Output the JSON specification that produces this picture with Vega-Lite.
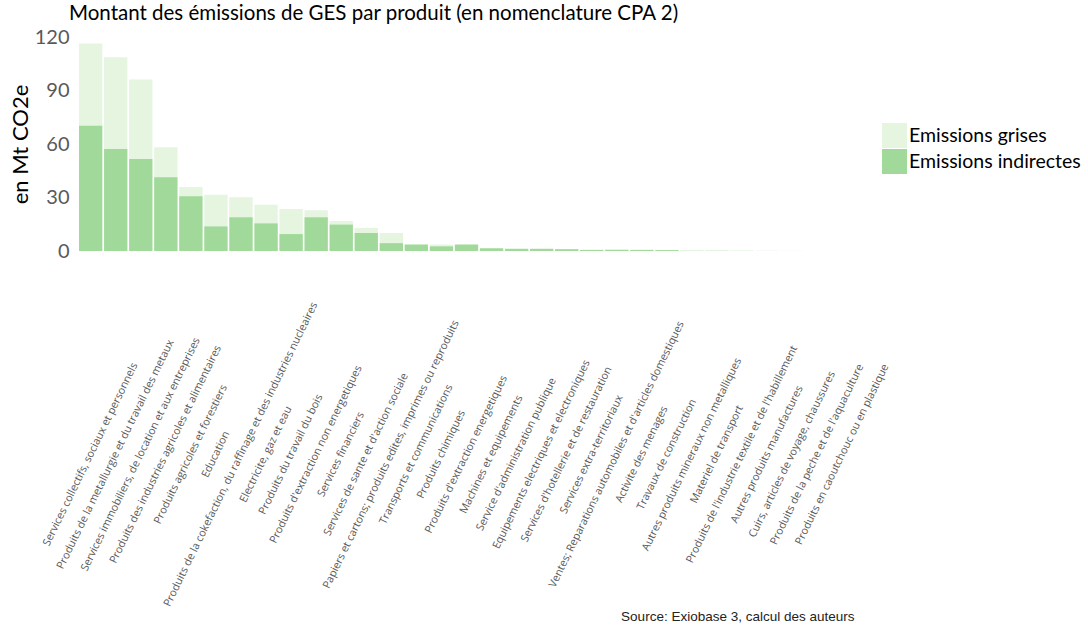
{
  "$schema": "https://vega.github.io/schema/vega-lite/v6.json",
  "width": 775,
  "height": 214,
  "padding": {"left": 9, "top": 3, "right": 5, "bottom": 2},
  "background": "white",
  "title": {
    "text": "Montant des émissions de GES par produit (en nomenclature CPA 2)",
    "anchor": "start",
    "frame": "group",
    "dx": -10,
    "font": "Lato",
    "fontSize": 20.5,
    "fontWeight": "normal",
    "color": "#000000",
    "offset": 3
  },
  "data": {
    "values": [
      {"produit": "Services collectifs, sociaux et personnels", "type": "Emissions grises", "valeur": 116.3},
      {"produit": "Produits de la metallurgie et du travail des metaux", "type": "Emissions grises", "valeur": 108.6},
      {"produit": "Services immobiliers, de location et aux entreprises", "type": "Emissions grises", "valeur": 96.1},
      {"produit": "Produits des industries agricoles et alimentaires", "type": "Emissions grises", "valeur": 58.2},
      {"produit": "Produits agricoles et forestiers", "type": "Emissions grises", "valeur": 35.9},
      {"produit": "Education", "type": "Emissions grises", "valeur": 31.6},
      {"produit": "Produits de la cokefaction, du raffinage et des industries nucleaires", "type": "Emissions grises", "valeur": 30.1},
      {"produit": "Electricite, gaz et eau", "type": "Emissions grises", "valeur": 26.0},
      {"produit": "Produits du travail du bois", "type": "Emissions grises", "valeur": 23.6},
      {"produit": "Produits d'extraction non energetiques", "type": "Emissions grises", "valeur": 22.8},
      {"produit": "Services financiers", "type": "Emissions grises", "valeur": 16.8},
      {"produit": "Services de sante et d'action sociale", "type": "Emissions grises", "valeur": 12.9},
      {"produit": "Papiers et cartons; produits edites, imprimes ou reproduits", "type": "Emissions grises", "valeur": 10.1},
      {"produit": "Transports et communications", "type": "Emissions grises", "valeur": 3.7},
      {"produit": "Produits chimiques", "type": "Emissions grises", "valeur": 3.6},
      {"produit": "Produits d'extraction energetiques", "type": "Emissions grises", "valeur": 3.7},
      {"produit": "Machines et equipements", "type": "Emissions grises", "valeur": 1.6},
      {"produit": "Service d'administration publique", "type": "Emissions grises", "valeur": 1.3},
      {"produit": "Equipements electriques et electroniques", "type": "Emissions grises", "valeur": 1.3},
      {"produit": "Services d'hotellerie et de restauration", "type": "Emissions grises", "valeur": 1.1},
      {"produit": "Services extra-territoriaux", "type": "Emissions grises", "valeur": 0.7},
      {"produit": "Ventes; Reparations automobiles et d'articles domestiques", "type": "Emissions grises", "valeur": 1.0},
      {"produit": "Activite des menages", "type": "Emissions grises", "valeur": 0.7},
      {"produit": "Travaux de construction", "type": "Emissions grises", "valeur": 0.6},
      {"produit": "Autres produits mineraux non metalliques", "type": "Emissions grises", "valeur": 0.3},
      {"produit": "Materiel de transport", "type": "Emissions grises", "valeur": 0.3},
      {"produit": "Produits de l'industrie textile et de l'habillement", "type": "Emissions grises", "valeur": 0.2},
      {"produit": "Autres produits manufactures", "type": "Emissions grises", "valeur": 0.1},
      {"produit": "Cuirs, articles de voyage, chaussures", "type": "Emissions grises", "valeur": 0.05},
      {"produit": "Produits de la peche et de l'aquaculture", "type": "Emissions grises", "valeur": 0.04},
      {"produit": "Produits en caoutchouc ou en plastique", "type": "Emissions grises", "valeur": 0.03},
      {"produit": "Services collectifs, sociaux et personnels", "type": "Emissions indirectes", "valeur": 70.3},
      {"produit": "Produits de la metallurgie et du travail des metaux", "type": "Emissions indirectes", "valeur": 57.2},
      {"produit": "Services immobiliers, de location et aux entreprises", "type": "Emissions indirectes", "valeur": 51.6},
      {"produit": "Produits des industries agricoles et alimentaires", "type": "Emissions indirectes", "valeur": 41.3},
      {"produit": "Produits agricoles et forestiers", "type": "Emissions indirectes", "valeur": 30.7},
      {"produit": "Education", "type": "Emissions indirectes", "valeur": 13.8},
      {"produit": "Produits de la cokefaction, du raffinage et des industries nucleaires", "type": "Emissions indirectes", "valeur": 18.9},
      {"produit": "Electricite, gaz et eau", "type": "Emissions indirectes", "valeur": 15.5},
      {"produit": "Produits du travail du bois", "type": "Emissions indirectes", "valeur": 9.5},
      {"produit": "Produits d'extraction non energetiques", "type": "Emissions indirectes", "valeur": 18.9},
      {"produit": "Services financiers", "type": "Emissions indirectes", "valeur": 14.8},
      {"produit": "Services de sante et d'action sociale", "type": "Emissions indirectes", "valeur": 10.1},
      {"produit": "Papiers et cartons; produits edites, imprimes ou reproduits", "type": "Emissions indirectes", "valeur": 4.4},
      {"produit": "Transports et communications", "type": "Emissions indirectes", "valeur": 3.6},
      {"produit": "Produits chimiques", "type": "Emissions indirectes", "valeur": 2.6},
      {"produit": "Produits d'extraction energetiques", "type": "Emissions indirectes", "valeur": 3.6},
      {"produit": "Machines et equipements", "type": "Emissions indirectes", "valeur": 1.5},
      {"produit": "Service d'administration publique", "type": "Emissions indirectes", "valeur": 1.2},
      {"produit": "Equipements electriques et electroniques", "type": "Emissions indirectes", "valeur": 1.2},
      {"produit": "Services d'hotellerie et de restauration", "type": "Emissions indirectes", "valeur": 1.0},
      {"produit": "Services extra-territoriaux", "type": "Emissions indirectes", "valeur": 0.6},
      {"produit": "Ventes; Reparations automobiles et d'articles domestiques", "type": "Emissions indirectes", "valeur": 0.6},
      {"produit": "Activite des menages", "type": "Emissions indirectes", "valeur": 0.6},
      {"produit": "Travaux de construction", "type": "Emissions indirectes", "valeur": 0.5},
      {"produit": "Autres produits mineraux non metalliques", "type": "Emissions indirectes", "valeur": 0.1},
      {"produit": "Materiel de transport", "type": "Emissions indirectes", "valeur": 0.1},
      {"produit": "Produits de l'industrie textile et de l'habillement", "type": "Emissions indirectes", "valeur": 0.05},
      {"produit": "Autres produits manufactures", "type": "Emissions indirectes", "valeur": 0.03},
      {"produit": "Cuirs, articles de voyage, chaussures", "type": "Emissions indirectes", "valeur": 0.02},
      {"produit": "Produits de la peche et de l'aquaculture", "type": "Emissions indirectes", "valeur": 0.01},
      {"produit": "Produits en caoutchouc ou en plastique", "type": "Emissions indirectes", "valeur": 0.01}
    ]
  },
  "mark": {"type": "bar"},
  "encoding": {
    "x": {
      "field": "produit",
      "type": "nominal",
      "sort": null,
      "scale": {"paddingInner": 0.07, "paddingOuter": 0},
      "axis": {
        "title": "Source: Exiobase 3, calcul des auteurs",
        "titleAnchor": "end",
        "titleAlign": "right",
        "titleFont": "Liberation Sans",
        "titleFontSize": 13.5,
        "titleFontWeight": "normal",
        "titleColor": "#222222",
        "titleBaseline": "alphabetic",
        "titleY": 369,
        "labelAngle": -64,
        "labelAlign": "center",
        "labelBaseline": "middle",
        "labelPadding": 203,
        "labelFont": "Open Sans",
        "labelFontSize": 10.8,
        "labelColor": "#595959",
        "labelOverlap": false,
        "labelLimit": 0,
        "ticks": false,
        "domain": false
      }
    },
    "y": {
      "field": "valeur",
      "type": "quantitative",
      "stack": null,
      "scale": {"domain": [0, 120]},
      "axis": {
        "title": "en Mt CO2e",
        "titleFont": "Lato",
        "titleFontSize": 22,
        "titleFontWeight": "normal",
        "titleColor": "#000000",
        "titlePadding": 2,
        "values": [0, 30, 60, 90, 120],
        "labelFont": "Lato",
        "labelFontSize": 20,
        "labelColor": "#595959",
        "labelPadding": 10,
        "grid": false,
        "ticks": false,
        "domain": false
      }
    },
    "color": {
      "field": "type",
      "type": "nominal",
      "scale": {"domain": ["Emissions grises", "Emissions indirectes"], "range": ["#e5f5e0", "#a1d99b"]},
      "legend": {
        "title": null,
        "orient": "none",
        "legendX": 803,
        "legendY": 86,
        "symbolType": "square",
        "symbolSize": 625,
        "symbolStrokeWidth": 0,
        "symbolOpacity": 1,
        "labelFont": "Lato",
        "labelFontSize": 19.5,
        "labelColor": "#000000",
        "labelOffset": 2,
        "labelLimit": 0,
        "rowPadding": 1
      }
    }
  },
  "config": {"view": {"stroke": null}}
}
